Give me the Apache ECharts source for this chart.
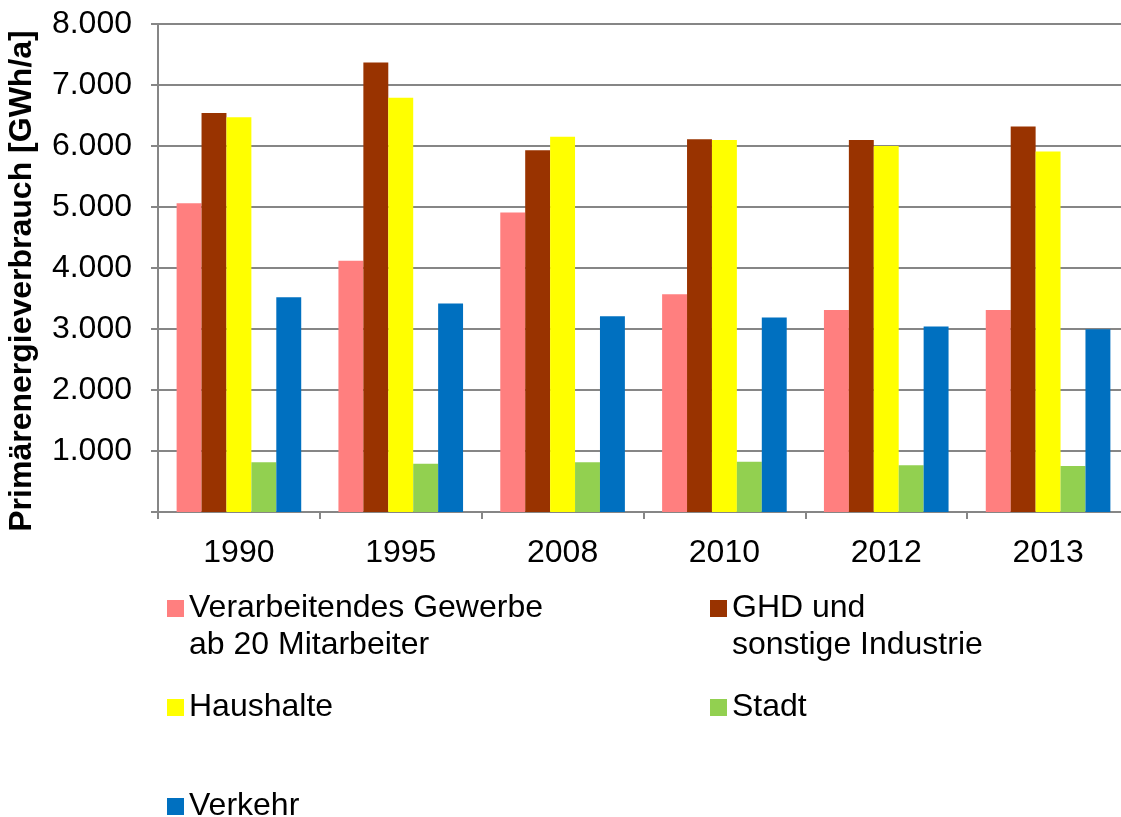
<!DOCTYPE html>
<html>
<head>
<meta charset="utf-8">
<script src="https://cdn.jsdelivr.net/npm/echarts@6/dist/echarts.min.js"></script>
<style>
html,body{margin:0;padding:0;background:#fff;}
#chart{width:1121px;height:817px;}
</style>
</head>
<body>
<div id="chart"></div>
<script>
const categories = ['1990', '1995', '2008', '2010', '2012', '2013'];
const verarbeitendes = [5060, 4120, 4910, 3570, 3310, 3310];
const ghd = [6540, 7370, 5930, 6110, 6100, 6320];
const haushalte = [6470, 6790, 6150, 6100, 6000, 5910];
const stadt = [815, 790, 815, 825, 765, 755];
const verkehr = [3520, 3420, 3210, 3190, 3040, 2995];
const seriesNames = [
  'Verarbeitendes Gewerbe\nab 20 Mitarbeiter',
  'GHD und\nsonstige Industrie',
  'Haushalte',
  'Stadt',
  'Verkehr'
];
const colors = ['#FF7F7F', '#993300', '#FFFF00', '#92D050', '#0070C0'];
const yTicks = [0, 1000, 2000, 3000, 4000, 5000, 6000, 7000, 8000];
const yAxisTitle = 'Primärenergieverbrauch [GWh/a]';

const FONT = '"Liberation Sans", Arial, sans-serif';
const LH = 37;
const seriesData = [verarbeitendes, ghd, haushalte, stadt, verkehr];

function fmt(v) {
  if (v === 0) return '';
  return String(v).replace(/\B(?=(\d{3})+(?!\d))/g, '.');
}

const legendPos = [
  {left: 167, top: 553, two: true},
  {left: 710, top: 553, two: true},
  {left: 167, top: 689},
  {left: 710, top: 689},
  {left: 167, top: 788}
];

const legends = seriesNames.map((n, i) => ({
  data: [n],
  left: legendPos[i].left,
  top: legendPos[i].top,
  orient: 'vertical',
  padding: 0,
  itemWidth: 17,
  itemHeight: 17,
  icon: 'rect',
  selectedMode: false,
  formatter: legendPos[i].two ? (name => ' \n' + name) : (name => name),
  textStyle: {
    fontFamily: FONT,
    fontSize: 32,
    color: '#000',
    lineHeight: LH
  }
}));

const chart = echarts.init(document.getElementById('chart'), null, {renderer: 'canvas'});
chart.setOption({
  animation: false,
  backgroundColor: '#fff',
  color: colors,
  grid: {left: 158, width: 971, top: 24, height: 488, containLabel: false, outerBoundsMode: 'none'},
  legend: legends,
  xAxis: {
    type: 'category',
    data: categories,
    axisLine: {lineStyle: {color: '#868686', width: 2}},
    axisTick: {show: true, length: 7, lineStyle: {color: '#868686', width: 2}},
    axisLabel: {fontFamily: FONT, fontSize: 32, color: '#000', margin: 25}
  },
  yAxis: {
    type: 'value',
    min: yTicks[0],
    max: yTicks[yTicks.length - 1],
    interval: 1000,
    name: yAxisTitle,
    nameLocation: 'middle',
    nameGap: 120,
    nameRotate: 90,
    nameTextStyle: {fontFamily: FONT, fontSize: 32, fontWeight: 'bold', color: '#000', padding: [0, 26, 0, 0]},
    axisLine: {show: true, lineStyle: {color: '#868686', width: 2}},
    axisTick: {show: true, length: 7, lineStyle: {color: '#868686', width: 2}},
    axisLabel: {fontFamily: FONT, fontSize: 32, color: '#000', margin: 26, formatter: fmt},
    splitLine: {show: true, lineStyle: {color: '#868686', width: 2}}
  },
  series: seriesNames.map((n, i) => ({
    name: n,
    type: 'bar',
    data: seriesData[i],
    barGap: '0%',
    barCategoryGap: '23%',
    itemStyle: {color: colors[i]}
  }))
});
</script>
</body>
</html>
